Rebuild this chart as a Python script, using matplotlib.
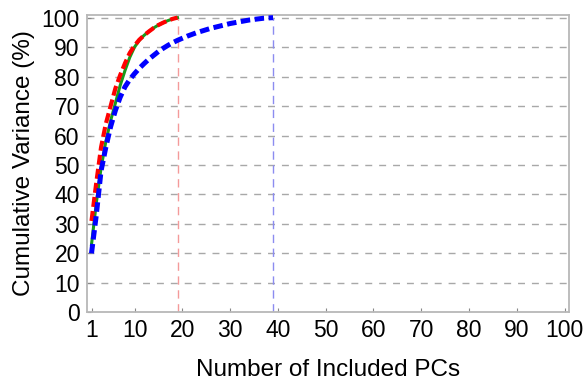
import matplotlib
matplotlib.use("Agg")
import matplotlib.pyplot as plt

plt.rcParams['font.family'] = ['Liberation Sans', 'DejaVu Sans']

# Cumulative explained variance (%) for three PCA runs
pcs_short = list(range(1, 20))
red_cumvar = [31, 44, 56, 64, 70, 76, 80.5, 84.5, 88, 90.5, 92.5, 94, 95.3,
              96.5, 97.5, 98.3, 99, 99.6, 100]
green_cumvar = [23, 37, 49, 58, 65, 71, 77, 82, 86.5, 90, 92.3, 94, 95.3,
                96.5, 97.5, 98.3, 99, 99.6, 100]
pcs_long = list(range(1, 40))
blue_cumvar = [20, 33, 48, 56, 63, 68.5, 73, 76.5, 79, 81, 82.8, 84.4, 85.9,
               87.2, 88.5, 89.6, 90.6, 91.5, 92.3, 93, 93.7, 94.3, 94.9, 95.4,
               95.9, 96.4, 96.8, 97.2, 97.6, 98, 98.3, 98.6, 98.9, 99.2, 99.4,
               99.6, 99.8, 99.9, 100]

cutoff_red = 19
cutoff_blue = 39

xticks = [1, 10, 20, 30, 40, 50, 60, 70, 80, 90, 100]
yticks = list(range(0, 101, 10))

fig = plt.figure(figsize=(5.86, 3.83), dpi=100)
ax = fig.add_axes([0.148, 0.1846, 0.8235, 0.777])

for y in yticks[1:]:
    ax.axhline(y, color='#a8a8a8', lw=1.0, ls=(0, (5, 5)), zorder=1)

ax.plot([cutoff_red, cutoff_red], [0, 100], color='#f49a9a', lw=1.0,
        ls=(0, (6, 4)), zorder=2)
ax.plot([cutoff_blue, cutoff_blue], [0, 100], color='#8c8cf0', lw=1.0,
        ls=(0, (6, 4)), zorder=2)

ax.plot(pcs_short, green_cumvar, color='#1a9a1a', lw=2.2, zorder=3)
ax.plot(pcs_short, red_cumvar, color='#ff0000', lw=3.0,
        ls=(0, (2.4, 1.0)), zorder=4)
ax.plot(pcs_long, blue_cumvar, color='#0000ff', lw=3.6,
        ls=(0, (1.9, 0.9)), zorder=5)

ax.set_xlim(0, 101)
ax.set_ylim(0, 101)
ax.set_xticks(xticks)
ax.set_yticks(yticks)
ax.tick_params(direction='in', length=3, width=0.8, color='#888888',
               labelsize=16.5, pad=5)
for s in ax.spines.values():
    s.set_color('#b8b8b8')
    s.set_linewidth(1.3)

ax.set_xlabel('Number of Included PCs', fontsize=17.5, labelpad=12)
ax.set_ylabel('Cumulative Variance (%)', fontsize=17.5, labelpad=5)

fig.savefig('out.png', dpi=100)
